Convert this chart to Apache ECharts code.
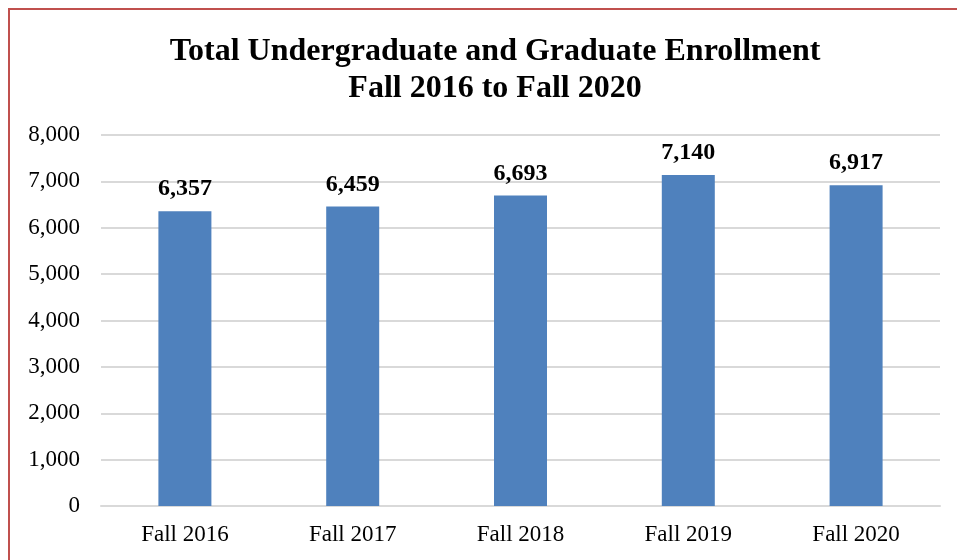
<!DOCTYPE html>
<html>
<head>
<meta charset="utf-8">
<script src="https://cdn.jsdelivr.net/npm/echarts@6/dist/echarts.min.js"></script>
<style>
  html, body { margin: 0; padding: 0; background: #fff; }
  #chart { width: 957px; height: 560px; }
</style>
</head>
<body>
<div id="chart"></div>
<script>
// enrollment per fall term
const terms = ['Fall 2016', 'Fall 2017', 'Fall 2018', 'Fall 2019', 'Fall 2020'];
const enrollment = [6357, 6459, 6693, 7140, 6917];

const chart = echarts.init(document.getElementById('chart'));
const fmt = v => Number(v).toLocaleString('en-US');

chart.setOption({
  backgroundColor: '#fff',
  animation: false,
  textStyle: { fontFamily: 'Liberation Serif' },
  title: {
    text: 'Total Undergraduate and Graduate Enrollment\nFall 2016 to Fall 2020',
    left: 490,
    top: 28,
    textAlign: 'center',
    textStyle: {
      fontFamily: 'Liberation Serif',
      fontSize: 32,
      fontWeight: 'bold',
      color: '#000',
      lineHeight: 37
    }
  },
  // red frame around the chart (only top/left edges are visible)
  graphic: [{
    type: 'rect',
    shape: { x: 9, y: 9, width: 1000, height: 600 },
    style: { fill: 'none', stroke: '#c0504d', lineWidth: 2 },
    silent: true
  }],
  grid: { left: 101, right: 17, top: 135, bottom: 54 },
  xAxis: {
    type: 'category',
    data: terms,
    axisLine: { lineStyle: { color: '#d9d9d9', width: 2 } },
    axisTick: { show: false },
    axisLabel: { color: '#000', fontSize: 23, margin: 17 }
  },
  yAxis: {
    type: 'value',
    min: 0,
    max: 8000,
    interval: 1000,
    axisLine: { show: false },
    axisTick: { show: false },
    splitLine: { lineStyle: { color: '#d9d9d9', width: 2 } },
    axisLabel: { color: '#000', fontSize: 23, margin: 21, formatter: fmt }
  },
  series: [{
    type: 'bar',
    data: enrollment,
    barWidth: 53,
    itemStyle: { color: '#4f81bd' },
    label: {
      show: true,
      position: 'top',
      distance: 10,
      color: '#000',
      fontSize: 24,
      fontWeight: 'bold',
      fontFamily: 'Liberation Serif',
      formatter: p => fmt(p.value)
    }
  }]
});
</script>
</body>
</html>
